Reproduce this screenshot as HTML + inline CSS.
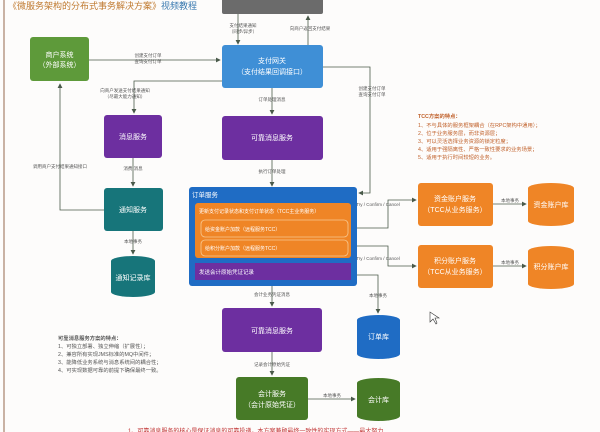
<!DOCTYPE html>
<html><head><meta charset="utf-8"><style>
html,body{margin:0;padding:0;background:#fff}
svg{display:block}
text{font-family:"Liberation Sans","Noto Sans CJK SC",sans-serif}
</style></head><body>
<svg width="600" height="432" viewBox="0 0 600 432" xmlns="http://www.w3.org/2000/svg">
<defs>
<marker id="a" markerWidth="6" markerHeight="6" refX="5" refY="3" orient="auto"><path d="M0,0 L6,3 L0,6 z" fill="#4a5a4a"/></marker>
</defs>
<rect x="0" y="0" width="600" height="432" fill="#fdfcfb"/>
<line x1="4" y1="0" x2="4" y2="432" stroke="#b89a88" stroke-width="1.5"/>
<text x="8" y="9" font-size="9" fill="#c07a30">《微服务架构的分布式事务解决方案》<tspan fill="#3a7ab0">视频教程</tspan></text>

<!-- top gray -->
<rect x="222" y="-4" width="101" height="18" rx="2" fill="#6b6b6b"/>
<g fill="none" stroke="#4a5a4a" stroke-width="0.8">
<path d="M238 14 V44" marker-end="url(#a)"/>
<path d="M308 45 V16" marker-end="url(#a)"/>
<path d="M89 60 H220" marker-end="url(#a)"/>
<path d="M222 81 H134 V113" marker-end="url(#a)"/>
<path d="M272 88 V114" marker-end="url(#a)"/>
<path d="M323 67 H370 V193 H359" marker-end="url(#a)"/>
<path d="M133 158 V186" marker-end="url(#a)"/>
<path d="M272 160 V186" marker-end="url(#a)"/>
<path d="M104 210 H60 V84" marker-end="url(#a)"/>
<path d="M133 231 V254" marker-end="url(#a)"/>
<path d="M351 228 H388 V200 H416" marker-end="url(#a)"/>
<path d="M351 246 H388 V266 H416" marker-end="url(#a)"/>
<path d="M493 204 H526" marker-end="url(#a)"/>
<path d="M493 266 H526" marker-end="url(#a)"/>
<path d="M357 275 H378 V313" marker-end="url(#a)"/>
<path d="M272 286 V306" marker-end="url(#a)"/>
<path d="M272 352 V375" marker-end="url(#a)"/>
<path d="M308 399 H355" marker-end="url(#a)"/>
</g>
<g font-size="4.5" fill="#555" text-anchor="middle">
<text x="243" y="27">支付结果通知</text><text x="243" y="33">（同步/异步）</text>
<text x="310" y="30">向商户返回支付结果</text>
<text x="148" y="57">创建支付订单</text><text x="148" y="63">查询支付订单</text>
<text x="125" y="92">向商户发送支付结果通知</text><text x="125" y="98">（尽最大能力通知）</text>
<text x="272" y="101">订单处理消息</text>
<text x="372" y="90">创建支付订单</text><text x="372" y="96">查询支付订单</text>
<text x="60" y="168">调用商户支付结果通知接口</text>
<text x="133" y="170">消费 消息</text>
<text x="272" y="173">执行订单处理</text>
<text x="133" y="243">本地事务</text>
<text x="378" y="206">Try / Confirm / Cancel</text>
<text x="378" y="260">Try / Confirm / Cancel</text>
<text x="510" y="202">本地事务</text>
<text x="510" y="264">本地事务</text>
<text x="378" y="297">本地事务</text>
<text x="272" y="296">会计业务凭证消息</text>
<text x="272" y="366">记录会计原始凭证</text>
<text x="332" y="397">本地事务</text>
</g>

<g font-size="7" fill="#fff" text-anchor="middle">
<rect x="30" y="37" width="59" height="44" rx="3" fill="#5e9a3a"/>
<text x="59.5" y="57">商户系统</text><text x="59.5" y="67">（外部系统）</text>
<rect x="222" y="45" width="101" height="43" rx="3" fill="#3f8fd6"/>
<text x="272" y="63">支付网关</text><text x="272" y="74">（支付结果回调接口）</text>
<rect x="104" y="115" width="58" height="43" rx="3" fill="#6d2fa0"/>
<text x="133" y="139">消息服务</text>
<rect x="222" y="116" width="101" height="44" rx="3" fill="#6d2fa0"/>
<text x="272" y="140">可靠消息服务</text>
<rect x="104" y="188" width="59" height="43" rx="3" fill="#17757a"/>
<text x="133" y="212">通知服务</text>
<path d="M111 261 A22 5 0 0 1 155 261 V292 A22 5 0 0 1 111 292 Z" fill="#17757a"/>
<text x="133" y="280">通知记录库</text>

<rect x="189" y="187" width="168" height="99" rx="3" fill="#1f6cc4"/>
<text x="192" y="197" text-anchor="start" font-size="6.5">订单服务</text>
<rect x="195" y="203" width="156" height="55" rx="3" fill="#ef8526"/>
<text x="199" y="213" text-anchor="start" font-size="5">更新支付记录状态和支付订单状态（TCC主业务服务）</text>
<rect x="201" y="220" width="147" height="17" rx="4" fill="#ef8526" stroke="#f8c890" stroke-width="0.8"/>
<text x="205" y="231" text-anchor="start" font-size="5">给资金账户加款（远程服务TCC）</text>
<rect x="201" y="240" width="147" height="16" rx="4" fill="#ef8526" stroke="#f8c890" stroke-width="0.8"/>
<text x="205" y="250" text-anchor="start" font-size="5">给积分账户加款（远程服务TCC）</text>
<rect x="195" y="263" width="156" height="17" fill="#6d2fa0"/>
<text x="199" y="274" text-anchor="start" font-size="5.5">发送会计原始凭证记录</text>

<rect x="418" y="183" width="75" height="43" rx="3" fill="#ef8526"/>
<text x="455" y="201">资金账户服务</text><text x="455" y="212">（TCC从业务服务）</text>
<path d="M528 188 A23 5 0 0 1 574 188 V221 A23 5 0 0 1 528 221 Z" fill="#ef8526"/>
<text x="551" y="207">资金账户库</text>
<rect x="418" y="245" width="75" height="43" rx="3" fill="#ef8526"/>
<text x="455" y="263">积分账户服务</text><text x="455" y="274">（TCC从业务服务）</text>
<path d="M528 251 A23 5 0 0 1 574 251 V284 A23 5 0 0 1 528 284 Z" fill="#ef8526"/>
<text x="551" y="269">积分账户库</text>

<path d="M357 320 A21.5 5 0 0 1 400 320 V354 A21.5 5 0 0 1 357 354 Z" fill="#1f6cc4"/>
<text x="378.5" y="339">订单库</text>
<rect x="222" y="308" width="100" height="44" rx="3" fill="#6d2fa0"/>
<text x="272" y="333">可靠消息服务</text>
<rect x="236" y="377" width="72" height="43" rx="3" fill="#477a27"/>
<text x="272" y="396">会计服务</text><text x="272" y="407">（会计原始凭证）</text>
<path d="M357 383 A21.5 5 0 0 1 400 383 V416 A21.5 5 0 0 1 357 416 Z" fill="#477a27"/>
<text x="378.5" y="402">会计库</text>
</g>

<g font-size="5.3" fill="#c0602a">
<text x="418" y="118" font-weight="bold">TCC方案的特点：</text>
<text x="418" y="127">1、不与具体的服务框架耦合（在RPC架构中通用）；</text>
<text x="418" y="135">2、位于业务服务层，而非资源层；</text>
<text x="418" y="143">3、可以灵活选择业务资源的锁定粒度；</text>
<text x="418" y="151">4、适用于强隔离性、严格一致性要求的业务场景；</text>
<text x="418" y="159">5、适用于执行时间较短的业务。</text>
</g>
<g font-size="5.3" fill="#555">
<text x="58" y="340" font-weight="bold">可靠消息服务方案的特点：</text>
<text x="58" y="348">1、可独立部署、独立伸缩（扩展性）；</text>
<text x="58" y="356">2、兼容所有实现JMS标准的MQ中间件；</text>
<text x="58" y="364">3、能降低业务系统与消息系统间的耦合性；</text>
<text x="58" y="372">4、可实现数据可靠的前提下确保最终一致。</text>
</g>
<text x="128" y="433" font-size="6" fill="#c03030">1、可靠消息服务的核心是保证消息的可靠投递，本方案兼顾最终一致性的实现方式——最大努力</text>
<path d="M430 312 V322 L433 319 L436 324 L437 323 L435 318 L439 318 Z" fill="#fff" stroke="#333" stroke-width="0.6"/>
</svg>
</body></html>
